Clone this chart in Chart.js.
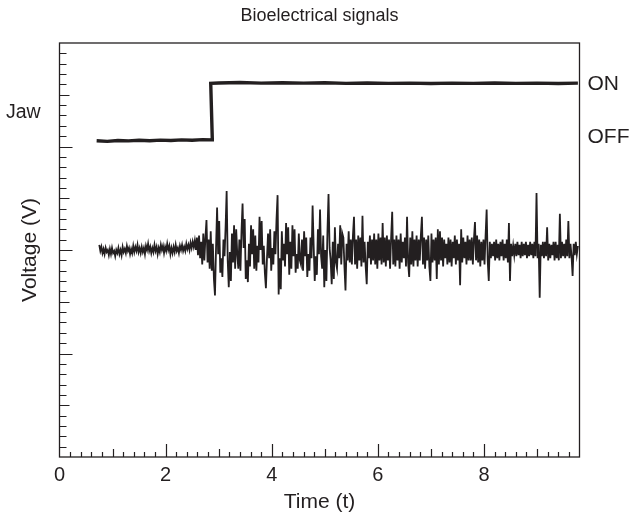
<!DOCTYPE html>
<html>
<head>
<meta charset="utf-8">
<title>Bioelectrical signals</title>
<script src="https://cdn.jsdelivr.net/npm/chart.js@4"></script>
<style>
  html, body { margin: 0; padding: 0; background: #fff; }
  #wrap { width: 630px; height: 521px; position: relative; }
</style>
</head>
<body>
<div id="wrap"><canvas id="sig"></canvas></div>
<script>
const INK = '#231f20';
const FONT = "'Liberation Sans', Arial, Helvetica, sans-serif";

// x axis labels
const xTickValues = [0, 2, 4, 6, 8];

// jaw switch trace (time, volts)
const jawT = [0.70, 0.90, 1.10, 1.30, 1.50, 1.70, 1.90, 2.10, 2.30, 2.50, 2.70, 2.88,
              2.85, 3.00, 3.40, 3.80, 4.20, 4.60, 5.00, 5.40, 5.80, 6.20, 6.60, 7.00,
              7.40, 7.80, 8.20, 8.60, 9.00, 9.40, 9.77];
const jawV = [3.055, 3.050, 3.058, 3.054, 3.060, 3.056, 3.062, 3.058, 3.064, 3.060, 3.066, 3.064,
              3.610, 3.614, 3.618, 3.612, 3.616, 3.612, 3.616, 3.610, 3.614, 3.610, 3.612, 3.608,
              3.612, 3.610, 3.614, 3.610, 3.612, 3.608, 3.612];

// muscle trace, one row = 0.2 s, sampled every emgStep from emgStart
const emgStart = 0.75;
const emgStep = 0.02;
const emgV = [
  // resting
  2.05, 1.99, 2.03, 1.97, 2.01, 1.96, 2.02, 1.98, 2.00, 1.95,
  2.01, 1.96, 2.02, 1.97, 1.99, 1.94, 2.00, 1.97, 2.02, 1.96,
  2.00, 1.95, 2.03, 1.98, 2.01, 1.97, 2.04, 1.99, 2.02, 1.96,
  2.01, 1.97, 2.04, 1.98, 2.03, 1.99, 2.05, 1.98, 2.02, 1.97,
  2.03, 1.98, 2.02, 1.96, 2.04, 2.00, 2.06, 1.99, 2.03, 1.97,
  2.02, 1.98, 2.05, 1.99, 2.03, 1.96, 2.02, 1.98, 2.05, 2.00,
  2.04, 1.97, 2.03, 1.99, 2.06, 2.00, 2.04, 1.96, 2.02, 1.97,
  2.03, 1.98, 2.05, 1.99, 2.02, 1.97, 2.04, 2.00, 2.05, 1.99,
  2.03, 1.99, 2.06, 2.01, 2.05, 2.00, 2.07, 2.02, 2.08, 2.03,
  // biting
  2.09, 2.00, 2.12, 1.95, 2.14, 1.92, 2.08, 1.86, 2.16, 1.90,
  2.12, 2.29, 1.88, 2.10, 1.82, 2.18, 1.80, 2.06, 1.72, 1.56,
  2.02, 2.41, 1.96, 2.28, 1.78, 1.92, 1.74, 2.10, 1.94, 2.22,
  2.57, 1.90, 1.64, 1.98, 1.70, 2.16, 1.88, 2.24, 1.82, 2.20,
  1.96, 1.82, 2.10, 1.80, 2.18, 2.45, 2.02, 2.30, 1.72, 1.90,
  1.69, 2.06, 1.84, 2.24, 1.96, 2.20, 1.82, 2.14, 1.80, 2.04,
  1.88, 2.32, 2.00, 2.28, 1.86, 2.04, 1.78, 1.63, 1.92, 2.16,
  1.92, 2.20, 1.80, 2.02, 1.86, 2.18, 1.96, 2.30, 2.53, 1.57,
  1.92, 1.62, 2.18, 1.90, 2.06, 1.84, 2.26, 1.96, 2.22, 1.76,
  2.08, 1.82, 2.24, 1.94, 2.20, 1.78, 1.96, 1.82, 2.16, 1.90,
  1.86, 2.10, 1.80, 2.18, 1.94, 2.12, 1.74, 1.96, 1.80, 2.12,
  1.92, 2.43, 2.04, 1.70, 1.94, 1.76, 2.20, 1.96, 2.39, 1.94,
  1.82, 2.14, 1.64, 2.00, 1.70, 2.18, 2.54, 2.02, 1.90, 1.67,
  2.08, 1.72, 2.22, 1.88, 1.82, 2.06, 1.92, 2.24, 1.86, 2.16,
  2.12, 1.84, 1.61, 2.06, 1.90, 2.18, 1.88, 2.10, 1.86, 2.14,
  2.32, 1.86, 2.10, 1.82, 2.14, 1.90, 2.12, 1.84, 2.33, 1.88,
  2.08, 1.84, 1.67, 2.08, 1.92, 2.14, 1.86, 2.10, 1.90, 2.16,
  1.86, 2.10, 1.82, 2.16, 1.90, 2.12, 1.86, 2.26, 1.88, 2.12,
  1.84, 2.14, 1.90, 2.10, 1.82, 2.12, 2.37, 1.86, 2.10, 1.84,
  2.14, 1.90, 2.10, 1.82, 2.16, 1.88, 2.08, 1.92, 2.12, 1.84,
  2.32, 1.88, 1.74, 2.12, 1.86, 2.18, 1.84, 2.10, 1.90, 2.14,
  1.84, 2.10, 1.90, 2.14, 2.32, 1.86, 2.12, 1.82, 2.10, 1.90,
  2.14, 1.84, 1.70, 2.16, 1.88, 2.10, 1.90, 2.12, 1.72, 2.20,
  1.86, 2.18, 1.90, 2.12, 1.84, 2.10, 1.92, 2.06, 1.86, 2.12,
  1.88, 2.10, 1.84, 2.08, 1.92, 2.14, 1.86, 2.10, 1.90, 2.06,
  1.66, 2.20, 1.88, 2.12, 1.92, 2.08, 1.86, 2.14, 1.90, 2.10,
  1.90, 2.12, 1.86, 2.10, 2.27, 1.90, 2.14, 1.88, 2.10, 1.84,
  2.08, 1.90, 2.10, 1.86, 2.14, 2.39, 1.90, 1.70, 2.08, 1.92,
  2.06, 1.94, 2.08, 1.90, 2.10, 1.92, 2.06, 1.90, 2.08, 1.94,
  2.10, 1.90, 2.06, 1.92, 2.10, 1.88, 2.26, 1.70, 2.06, 1.94,
  2.04, 1.95, 2.06, 1.94, 2.08, 1.95, 2.05, 1.92, 2.08, 1.94,
  2.06, 1.95, 2.08, 1.92, 2.05, 1.94, 2.08, 1.95, 2.06, 1.92,
  2.08, 1.94, 2.55, 1.92, 2.06, 1.54, 2.05, 1.94, 2.08, 1.92,
  2.08, 1.94, 2.22, 1.90, 2.06, 1.92, 2.05, 1.95, 2.08, 1.90,
  2.08, 1.92, 2.05, 1.90, 2.35, 1.92, 2.08, 1.94, 2.06, 1.92,
  2.10, 1.94, 2.28, 1.92, 2.06, 1.94, 1.75, 2.06, 1.95, 2.08,
  1.96, 2.04
];

// side annotations, placed on the voltage scale
const sideLabels = [
  { text: 'Jaw', v: 3.33, side: 'left', size: 19.5 },
  { text: 'ON', v: 3.60, side: 'right', size: 21 },
  { text: 'OFF', v: 3.09, side: 'right', size: 21 }
];

const jawData = jawT.map((t, i) => ({ x: t, y: jawV[i] }));
const emgData = emgV.map((v, i) => ({ x: emgStart + i * emgStep, y: v }));

// frame, inward tick marks and the side labels
const frameTicks = {
  id: 'frameTicks',
  afterDatasetsDraw(chart) {
    const { ctx, chartArea: a, scales: { x, y } } = chart;
    ctx.save();
    ctx.strokeStyle = INK;
    ctx.lineWidth = 1.3;
    ctx.strokeRect(a.left, a.top, a.right - a.left, a.bottom - a.top);
    ctx.lineWidth = 1.2;
    ctx.beginPath();
    for (let k = 1; k <= 48; k++) {
      const px = Math.round(x.getPixelForValue(k / 5)) + 0.5;
      const len = k % 10 === 0 ? 13 : (k % 5 === 0 ? 8 : 5);
      ctx.moveTo(px, a.bottom);
      ctx.lineTo(px, a.bottom - len);
    }
    for (let k = 1; k < 40; k++) {
      const py = Math.round(y.getPixelForValue(k / 10)) + 0.5;
      const len = k % 10 === 0 ? 13 : (k % 5 === 0 ? 10 : 7);
      ctx.moveTo(a.left, py);
      ctx.lineTo(a.left + len, py);
    }
    ctx.stroke();

    ctx.fillStyle = INK;
    ctx.textBaseline = 'middle';
    ctx.textAlign = 'left';
    sideLabels.forEach(l => {
      ctx.font = l.size + 'px ' + FONT;
      const py = y.getPixelForValue(l.v);
      ctx.fillText(l.text, l.side === 'left' ? 6 : a.right + 8, py);
    });
    ctx.restore();
  }
};

new Chart(document.getElementById('sig'), {
  type: 'line',
  data: {
    datasets: [
      { label: 'Jaw', data: jawData, borderColor: INK, borderWidth: 3.4, pointRadius: 0, tension: 0 },
      { label: 'Muscle', data: emgData, borderColor: INK, borderWidth: 1.8, pointRadius: 0, tension: 0 }
    ]
  },
  options: {
    responsive: true,
    maintainAspectRatio: false,
    animation: false,
    events: [],
    layout: { padding: { left: 0, right: 50.5, top: 0, bottom: 0 } },
    plugins: {
      legend: { display: false },
      tooltip: { enabled: false },
      title: {
        display: true,
        fullSize: false,
        text: 'Bioelectrical signals',
        color: INK,
        font: { family: FONT, size: 18, weight: 'normal' },
        padding: { top: 5.2, bottom: 16.2 }
      }
    },
    scales: {
      x: {
        type: 'linear',
        min: 0,
        max: 9.8,
        grid: { display: false, drawTicks: false },
        border: { display: false },
        afterBuildTicks: s => { s.ticks = xTickValues.map(v => ({ value: v })); },
        afterFit: s => { s.height = 64; },
        ticks: { color: INK, padding: 6, font: { family: FONT, size: 20 } },
        title: {
          display: true,
          text: 'Time (t)',
          color: INK,
          font: { family: FONT, size: 21 },
          padding: { top: 0, bottom: 6.4 }
        }
      },
      y: {
        type: 'linear',
        min: 0,
        max: 4,
        grid: { display: false, drawTicks: false },
        border: { display: false },
        ticks: { display: false },
        afterFit: s => { s.width = 59.5; },
        title: {
          display: true,
          text: 'Voltage (V)',
          color: INK,
          font: { family: FONT, size: 21 },
          padding: { top: 17.4, bottom: 0 }
        }
      }
    }
  },
  plugins: [frameTicks]
});
</script>
</body>
</html>
